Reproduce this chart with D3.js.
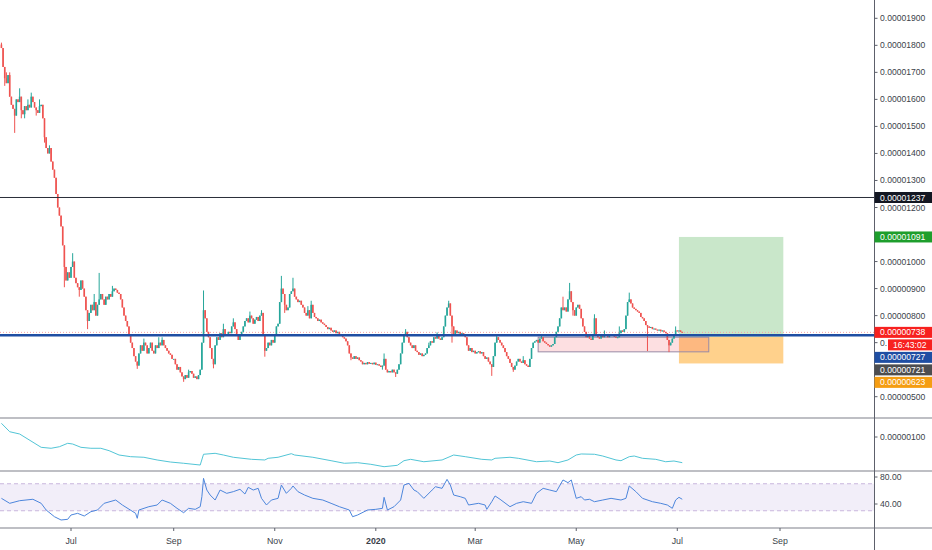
<!DOCTYPE html>
<html><head><meta charset="utf-8">
<script src="https://cdn.jsdelivr.net/npm/d3@7"></script>
<style>body{margin:0;background:#fff;overflow:hidden} svg{display:block} text{font-family:"Liberation Sans",Arial,sans-serif}</style>
</head><body><svg id="c" width="932" height="550"></svg>
<script>
// ---- DATA (prices in units of 1e-8) ----
const startDate = "2019-05-20";
const firstOpen = 1803;
const closes = [
1790,1720,1678,1660,1690,1610,1580,1565,1540,1600,
1590,1610,1560,1545,1575,1560,1580,1570,1610,1590,
1570,1560,1550,1575,1580,1530,1460,1420,1400,1420,
1370,1340,1310,1250,1200,1170,1130,1060,980,930,
960,940,980,1000,940,920,905,895,930,900,
870,820,780,810,840,820,850,800,840,860,
880,860,840,870,860,880,870,890,900,895,
885,880,860,830,800,780,760,730,700,680,
650,630,615,660,690,670,700,690,660,680,
700,670,660,690,680,700,690,710,690,680,
670,660,655,640,640,620,600,610,590,575,
565,580,570,590,595,585,570,575,565,580,
600,700,820,790,740,720,680,640,620,690,
720,710,735,720,750,725,730,740,735,760,
775,750,730,710,730,740,760,780,790,775,
800,790,770,785,795,780,800,810,730,670,
680,700,690,710,700,730,760,770,850,900,
880,840,820,830,880,890,900,870,860,850,
855,840,830,810,800,820,790,840,810,795,
790,780,785,775,770,765,758,750,755,745,
740,745,735,740,730,725,720,715,705,690,
660,645,640,650,640,645,635,630,620,625,
620,628,622,625,620,626,618,620,615,610,
615,640,600,590,595,590,600,590,585,600,
620,660,700,730,740,720,700,690,680,690,
670,665,655,660,650,655,660,680,690,705,
700,720,715,725,715,710,720,760,800,830,
845,800,760,730,745,735,740,730,735,725,
720,690,670,680,665,670,660,665,668,660,
665,650,640,645,630,620,610,650,700,720,
710,700,690,680,665,650,640,625,610,600,
615,630,640,630,625,635,620,615,610,640,
680,700,705,710,700,715,720,705,700,695,
690,685,690,695,720,740,760,790,830,820,
830,815,860,890,850,820,800,830,840,825,
790,760,740,720,725,715,710,730,790,725,
720,715,725,720,730,725,720,730,725,730,
722,718,720,735,745,740,750,800,850,860,
845,830,825,820,815,810,795,790,780,765,
760,755,758,750,752,748,745,748,742,745,
740,735,710,690,700,715,730,745,742,745,740,738];
// notable wicks: [candle index, high, low]
const wicks = [[0,1810,null],[2,null,1650],[3,1700,null],[5,1700,null],[8,null,1476],[11,1641,null],[12,null,1530],[14,null,1530],[16,1600,null],
[18,1625,null],[21,null,1540],[23,1600,null],[26,null,1440],[29,1430,null],[38,null,905],[43,1031,null],[47,null,870],[52,null,750],
[56,880,null],[59,958,null],[67,910,null],[82,null,603],[86,715,null],[95,720,null],[97,720,null],[110,null,555],[113,600,null],
[122,893,null],[128,null,605],[134,770,null],[140,790,null],[141,765,null],[150,815,null],[157,820,null],[159,null,648],[169,947,null],
[171,null,810],[176,940,null],[185,835,null],[187,855,null],[211,null,635],[230,null,600],[231,660,null],[238,null,573],[244,750,null],
[258,700,null],[263,738,null],[270,855,null],[272,null,700],[296,null,577],[299,730,null],[300,720,null],[309,null,592],[315,650,null],
[326,730,null],[339,870,null],[343,921,null],[345,null,800],[358,805,null],[364,745,null],[373,760,null],[379,885,null],[386,805,null],
[390,null,669],[403,null,665],[407,760,null]];
// middle pane indicator (units of 1e-8), sampled at candle indices
const indIdx = [0,5,11,24,30,35,40,43,48,54,60,65,71,78,86,94,102,110,120,122,129,134,140,151,159,161,167,175,177,188,199,207,215,223,231,239,243,247,255,266,273,280,290,296,298,307,312,323,331,336,342,347,350,358,363,371,374,379,382,387,395,401,406,411];
const indVals = [122.8,108.8,105,82.8,81.2,83.8,89.5,88.3,82.8,81.2,81.2,77.2,70,67.2,66.2,61.7,58.3,56.2,53.3,71.2,72.8,70,66.2,62.8,61.7,64.5,66.2,72.2,70,66.2,60.5,56.2,57.2,54.5,50.5,52.8,60.5,62.8,58.8,61.7,70,67.2,62.8,61.7,64.5,66.2,64.5,58.8,60,57.2,61.7,70,71.7,71.2,68.3,61.7,60.5,67.2,68.3,64.5,62.8,58.8,60,57.2];
// RSI samples at candle indices
const rsiIdx = [0,5,11,19,24,27,32,36,40,42,46,50,54,58,62,69,73,81,82,83,89,94,97,102,106,110,113,117,120,121,122,124,126,129,132,136,140,144,147,149,152,155,157,160,163,167,169,172,175,176,179,183,188,194,199,204,210,212,215,221,226,230,231,233,237,241,243,246,249,251,255,260,262,266,269,271,273,277,280,282,288,292,293,296,298,301,307,311,315,320,323,327,331,335,339,342,344,347,350,352,355,358,363,368,374,377,379,383,387,393,398,402,405,407,409,411];
const rsiVals = [48.4,41,44.9,47,41,31.1,21.2,16.3,17.3,23.7,26.2,22.2,28.6,31.1,41,45.9,38.5,26.2,18.8,31.1,36,38.5,45.9,41,33.6,27.1,33.6,32.1,36,50.8,78,60.7,53.3,45.9,60.7,55.8,58.3,61.8,54.8,64.7,60.7,63.2,48.4,38.5,45.9,48.4,68.1,55.8,63.2,66.7,58.3,53.3,48.4,45.9,41,36,31.1,21.2,23.7,31.1,32.1,33.6,49.9,31.1,36,45.9,68.1,70.6,60.7,58.3,48.4,60.7,65.6,63.2,76.5,68.1,53.3,50.8,48.4,38.5,41,38.5,32.1,43.4,51.9,47,36,41,43.4,41,55.8,63.2,60.7,58.3,75.6,71.6,75.6,48.4,50.8,45.9,47,43.4,45.9,48.4,45.9,48.4,66.7,58.3,48.4,43.4,41,38.5,33.6,45.9,49.9,47];
const priceTicks = [500,600,700,800,900,1000,1100,1200,1300,1400,1500,1600,1700,1800,1900];
const timeTickDates = ["2019-07-01","2019-09-01","2019-11-01","2020-01-01","2020-03-01","2020-05-01","2020-07-01","2020-09-01"];
const timeTickLabels = ["Jul","Sep","Nov","2020","Mar","May","Jul","Sep"];
const resistance = 1237, support = 727, lastPrice = 738;
const target = 1091, entry = 721, stop = 623;
const toolStart = "2020-07-02", toolEnd = "2020-09-03";
const zoneStart = "2020-04-08", zoneEnd = "2020-07-20", zoneTop = 720, zoneBottom = 666;
const countdown = "16:43:02";

// ---- LAYOUT ----
const W = 932, axisX = 874;
const svg = d3.select("#c");
const parse = d3.utcParse("%Y-%m-%d");
const x = d3.scaleUtc().domain([parse("2019-07-01"), parse("2020-09-01")]).range([71, 780]);
const y = d3.scaleLinear().domain([500, 1900]).range([396.7, 18.3]);
const yInd = d3.scaleLinear().domain([0, 100]).range([497, 437]);
const yRsi = d3.scaleLinear().domain([40, 80]).range([504, 477]);
const fmt = v => (v * 1e-8).toFixed(8);
const start = parse(startDate);
const dateOf = i => d3.utcDay.offset(start, i);

const data = closes.map((c, i) => {
  const o = i ? closes[i - 1] : firstOpen;
  return { d: dateOf(i), o, c, h: Math.max(o, c), l: Math.min(o, c) };
});
wicks.forEach(([i, h, l]) => { if (h != null) data[i].h = Math.max(data[i].h, h); if (l != null) data[i].l = Math.min(data[i].l, l); });

svg.append("defs").append("clipPath").attr("id", "plot").append("rect").attr("x", 0).attr("y", 0).attr("width", axisX).attr("height", 550);
const plot = svg.append("g").attr("clip-path", "url(#plot)");

// position tool
const tx0 = x(parse(toolStart)), tx1 = x(parse(toolEnd));
plot.append("rect").attr("x", tx0).attr("width", tx1 - tx0).attr("y", y(target)).attr("height", y(entry) - y(target)).attr("fill", "rgba(76,175,80,0.3)");
plot.append("rect").attr("x", tx0).attr("width", tx1 - tx0).attr("y", y(entry)).attr("height", y(stop) - y(entry)).attr("fill", "rgba(255,152,0,0.45)");
// zone rectangle
const zx0 = x(parse(zoneStart)), zx1 = x(parse(zoneEnd));
plot.append("rect").attr("x", zx0).attr("width", zx1 - zx0).attr("y", y(zoneTop)).attr("height", y(zoneBottom) - y(zoneTop))
  .attr("fill", "rgba(242,54,69,0.16)").attr("stroke", "#9a8aa6").attr("stroke-width", 1);

// last price dotted line
plot.append("line").attr("x1", 0).attr("x2", axisX).attr("y1", y(lastPrice)).attr("y2", y(lastPrice))
  .attr("stroke", "#f4a3a6").attr("stroke-dasharray", "1,2").attr("stroke-width", 1);

// candles
const up = "#26a69a", dn = "#ef5350";
const cg = plot.append("g");
data.forEach(k => {
  const cx = x(k.d), col = k.c >= k.o ? up : dn;
  cg.append("line").attr("x1", cx).attr("x2", cx).attr("y1", y(k.h)).attr("y2", y(k.l)).attr("stroke", col).attr("stroke-width", 1);
  const t = y(Math.max(k.o, k.c)), b = y(Math.min(k.o, k.c));
  cg.append("rect").attr("x", cx - 0.8).attr("width", 1.6).attr("y", t).attr("height", Math.max(1, b - t)).attr("fill", col);
});

// horizontal levels
plot.append("line").attr("x1", 0).attr("x2", axisX).attr("y1", y(resistance)).attr("y2", y(resistance)).attr("stroke", "#2a2e39").attr("stroke-width", 1);
plot.append("line").attr("x1", 0).attr("x2", axisX).attr("y1", y(support)).attr("y2", y(support)).attr("stroke", "#1f4ea3").attr("stroke-width", 2.5);

// middle indicator
plot.append("path").datum(indIdx.map((i, j) => [x(dateOf(i)), yInd(indVals[j])]))
  .attr("d", d3.line()).attr("fill", "none").attr("stroke", "#52c5d6").attr("stroke-width", 1);

// RSI
plot.append("rect").attr("x", 0).attr("width", axisX).attr("y", yRsi(70)).attr("height", yRsi(30) - yRsi(70)).attr("fill", "rgba(126,87,194,0.1)");
[70, 30].forEach(v => plot.append("line").attr("x1", 0).attr("x2", axisX).attr("y1", yRsi(v)).attr("y2", yRsi(v))
  .attr("stroke", "#c9b6dd").attr("stroke-dasharray", "4,3").attr("stroke-width", 1));
plot.append("path").datum(rsiIdx.map((i, j) => [x(dateOf(i)), yRsi(rsiVals[j])]))
  .attr("d", d3.line()).attr("fill", "none").attr("stroke", "#4d86dc").attr("stroke-width", 1);

// pane separators
[418, 471, 528].forEach(py => svg.append("line").attr("x1", 0).attr("x2", W).attr("y1", py).attr("y2", py).attr("stroke", "#a8aab0").attr("stroke-width", 1.6));
// right axis line
svg.append("line").attr("x1", axisX + 0.5).attr("x2", axisX + 0.5).attr("y1", 0).attr("y2", 550).attr("stroke", "#5d606b").attr("stroke-width", 1);

const fs = "8.6px", tc = "#3b3f4a";
const LH = 11, GAP = 1.5;
// colored price labels layout (computed first so covered ticks can be handled)
const stack = [
  { v: lastPrice, bg: "#f7211f", t: fmt(lastPrice) },
  { v: lastPrice, bg: "#f7211f", t: countdown, cd: true },
  { v: support, bg: "#1f4ea3", t: fmt(support) },
  { v: entry, bg: "#4d4d4f", t: fmt(entry) },
  { v: stop, bg: "#f59d12", t: fmt(stop) }
];
let prev = -1e9;
stack.forEach(s => { s.y = Math.max(y(s.v), prev + LH + GAP); prev = s.y; });
const boxes = [{ y: y(resistance), x0: axisX }, { y: y(target), x0: axisX }]
  .concat(stack.map(s => ({ y: s.y, x0: s.cd ? 888 : axisX })));

// price axis
const pa = svg.append("g");
priceTicks.forEach(v => {
  const ty = y(v);
  pa.append("line").attr("x1", axisX).attr("x2", axisX + 3.5).attr("y1", ty).attr("y2", ty).attr("stroke", "#5d606b");
  const hit = boxes.find(b => Math.abs(b.y - ty) < 7);
  if (hit && hit.x0 === axisX && Math.abs(hit.y - ty) < 5) return; // fully hidden under a label
  let txt = fmt(v);
  if (hit && hit.x0 > axisX) txt = txt.slice(0, 2); // only the start peeks out
  pa.append("text").attr("x", 880).attr("y", ty).attr("dy", hit && hit.x0 === axisX ? "0.55em" : "0.35em").attr("font-size", fs).attr("fill", tc).text(txt);
});
// indicator axis
pa.append("line").attr("x1", axisX).attr("x2", axisX + 3.5).attr("y1", yInd(100)).attr("y2", yInd(100)).attr("stroke", "#5d606b");
pa.append("text").attr("x", 880).attr("y", yInd(100)).attr("dy", "0.35em").attr("font-size", fs).attr("fill", tc).text(fmt(100));
[80, 40].forEach(v => {
  pa.append("line").attr("x1", axisX).attr("x2", axisX + 3.5).attr("y1", yRsi(v)).attr("y2", yRsi(v)).attr("stroke", "#5d606b");
  pa.append("text").attr("x", 880).attr("y", yRsi(v)).attr("dy", "0.35em").attr("font-size", fs).attr("fill", tc).text(v.toFixed(2));
});
// time axis
timeTickDates.forEach((d, i) => {
  const px = x(parse(d));
  svg.append("line").attr("x1", px).attr("x2", px).attr("y1", 528).attr("y2", 531).attr("stroke", "#5d606b");
  svg.append("text").attr("x", px).attr("y", 541).attr("dy", "0.35em").attr("text-anchor", "middle").attr("font-size", "8.8px")
    .attr("font-weight", timeTickLabels[i] === "2020" ? "700" : "400").attr("fill", tc).text(timeTickLabels[i]);
});

// price labels
function label(yc, bg, txt, x0 = axisX + 0.5, tx = 880) {
  svg.append("rect").attr("x", x0).attr("y", yc - LH / 2).attr("width", W - x0).attr("height", LH).attr("fill", bg);
  svg.append("text").attr("x", tx).attr("y", yc).attr("dy", "0.35em").attr("font-size", fs).attr("fill", "#fff").text(txt);
}
label(y(resistance), "#131722", fmt(resistance));
label(y(target), "#1e9e2c", fmt(target));
stack.slice().reverse().forEach(s => {
  if (s.cd) label(s.y, s.bg, s.t, 888, 893);
  else label(s.y, s.bg, s.t);
});
</script></body></html>
